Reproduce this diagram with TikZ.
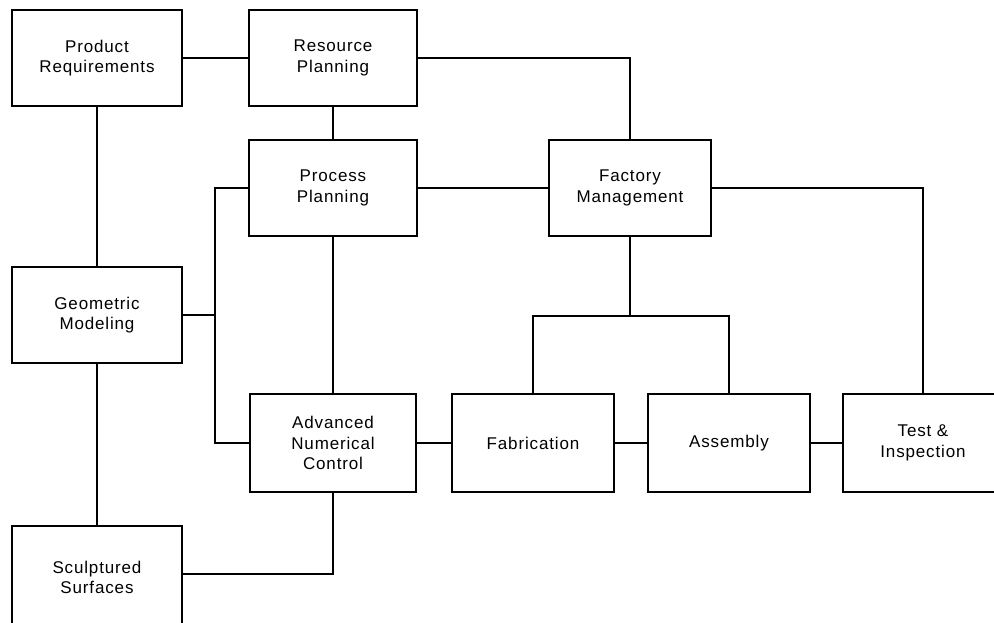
\documentclass[tikz,border=0pt]{standalone}
\usepackage{fontspec}
\setmainfont{Liberation Sans}[LetterSpace=5]
\begin{document}
\begin{tikzpicture}[x=1pt,y=-1pt,
  blk/.style={draw, line width=1.8pt, rectangle, align=center,
    inner sep=0pt, font=\fontsize{17}{20.5}\selectfont},
  link/.style={draw, line width=2pt}]
  \clip (0,0) rectangle (994,622);
  \fill[white] (0,0) rectangle (994,622);

  % blocks: centre, width, height
  \node[blk, minimum width=170pt, minimum height=96pt] (PR)  at (97,58)   {Product\\Requirements};
  \node[blk, minimum width=168pt, minimum height=96pt] (RP)  at (333,58)  {Resource\\Planning};
  \node[blk, minimum width=168pt, minimum height=96pt] (PP)  at (333,188) {Process\\Planning};
  \node[blk, minimum width=162pt, minimum height=96pt] (FM)  at (630,188) {Factory\\Management};
  \node[blk, minimum width=170pt, minimum height=96pt] (GM)  at (97,315)  {Geometric\\Modeling};
  \node[blk, minimum width=166pt, minimum height=98pt] (ANC) at (333,443) {Advanced\\Numerical\\Control};
  \node[blk, minimum width=162pt, minimum height=98pt] (FAB) at (533,443) {Fabrication};
  \node[blk, minimum width=162pt, minimum height=98pt] (ASM) at (729,443) {Assembly};
  \node[blk, minimum width=160pt, minimum height=98pt] (TI)  at (923,443) {Test \&\\Inspection};
  \node[blk, minimum width=170pt, minimum height=108pt] (SS) at (97,580)  {\raisebox{5pt}{\shortstack{Sculptured\\[1pt]Surfaces}}};

  % junction points
  \coordinate (busL) at (215,315);
  \path (FM.south) ++(0,79) coordinate (busF);

  % connectors
  \path[link] (PR.east) -- (RP.west);
  \path[link] (RP.east) -| (FM.north);
  \path[link] (RP.south) -- (PP.north);
  \path[link] (PP.east) -- (FM.west);
  \path[link] (FM.east) -| (TI.north);
  \path[link] (PR.south) -- (GM.north);
  \path[link] (GM.south) -- (SS.north);
  \path[link] (GM.east) -- (busL);
  \path[link] (PP.west) -| (busL) |- (ANC.west);
  \path[link] (PP.south) -- (ANC.north);
  \path[link] (ANC.south) |- (SS.east |- 0,574);
  \path[link] (FM.south) -- (busF);
  \path[link] (FAB.north) |- (busF) -| (ASM.north);
  \path[link] (ANC.east) -- (FAB.west);
  \path[link] (FAB.east) -- (ASM.west);
  \path[link] (ASM.east) -- (TI.west);
\end{tikzpicture}
\end{document}
